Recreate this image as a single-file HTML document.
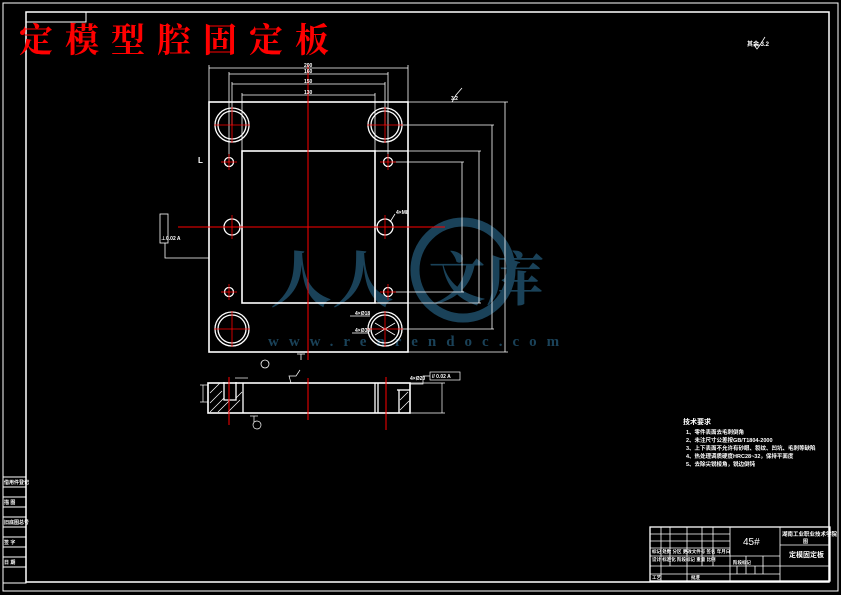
<!DOCTYPE html>
<html><head><meta charset="utf-8"><style>
html,body{margin:0;padding:0;background:#000;}
svg{display:block}
</style></head><body>
<svg width="841" height="595" viewBox="0 0 841 595" xmlns="http://www.w3.org/2000/svg" font-family="Liberation Sans, Noto Sans CJK SC, sans-serif">
<rect x="0" y="0" width="841" height="595" fill="#000"/>
<g stroke="#fff" fill="none" stroke-width="1">
<rect x="3" y="3" width="835" height="588"/>
<rect x="26" y="12" width="803" height="570" stroke-width="1.5"/>
<polyline points="26,22 86,22 86,12"/>
<rect x="3" y="477" width="23" height="106"/>
<line x1="3" y1="487" x2="26" y2="487"/><line x1="3" y1="497" x2="26" y2="497"/>
<line x1="3" y1="507" x2="26" y2="507"/><line x1="3" y1="517" x2="26" y2="517"/>
<line x1="3" y1="527" x2="26" y2="527"/><line x1="3" y1="537" x2="26" y2="537"/>
<line x1="3" y1="547" x2="26" y2="547"/><line x1="3" y1="557" x2="26" y2="557"/>
<line x1="3" y1="567" x2="26" y2="567"/>
</g>
<text x="19" y="52" font-family="Liberation Serif, Noto Serif CJK SC, serif" font-weight="bold" font-size="34" letter-spacing="12" fill="#ff0000">定模型腔固定板</text>
<g fill="#1d4a63" opacity="0.9">
<circle cx="463" cy="270" r="48" fill="none" stroke="#1d4a63" stroke-width="9"/>
<text x="270" y="302" font-size="62" font-weight="bold" font-family="Noto Serif CJK SC, serif" fill="#1d4a63">人人</text>
<text x="428" y="300" font-size="58" font-weight="bold" font-family="Noto Serif CJK SC, serif" fill="#1d4a63">文库</text>
<text x="268" y="346" font-size="15" font-weight="bold" letter-spacing="10" font-family="Liberation Serif, serif" fill="#1d4a63">www.renrendoc.com</text>
</g>
<g stroke="#fff" fill="none" stroke-width="1.3">
<rect x="209" y="102" width="199" height="250" stroke-width="1.6"/>
<rect x="242" y="151" width="133" height="152" stroke-width="1.6"/>
<line x1="375" y1="151" x2="408" y2="151"/><line x1="375" y1="303" x2="408" y2="303"/>
<circle cx="232" cy="125" r="17"/><circle cx="232" cy="125" r="14"/>
<circle cx="385" cy="125" r="17"/><circle cx="385" cy="125" r="14"/>
<circle cx="232" cy="329" r="17"/><circle cx="232" cy="329" r="14"/>
<circle cx="385" cy="329" r="17"/><circle cx="385" cy="329" r="14"/>
<circle cx="229" cy="162" r="4.5"/><circle cx="388" cy="162" r="4.5"/>
<circle cx="229" cy="292" r="4.5"/><circle cx="388" cy="292" r="4.5"/>
<circle cx="232" cy="227" r="8"/><circle cx="385" cy="227" r="8"/>
<line x1="375" y1="323" x2="395" y2="335" stroke-width="0.8"/><line x1="375" y1="335" x2="395" y2="323" stroke-width="0.8"/>
<g stroke-width="0.8">
<line x1="209" y1="68" x2="408" y2="68"/><line x1="209" y1="65" x2="209" y2="102"/><line x1="408" y1="65" x2="408" y2="102"/>
<line x1="229" y1="74" x2="388" y2="74"/><line x1="229" y1="72" x2="229" y2="162"/><line x1="388" y1="72" x2="388" y2="162"/>
<line x1="232" y1="84" x2="385" y2="84"/><line x1="232" y1="82" x2="232" y2="125"/><line x1="385" y1="82" x2="385" y2="125"/>
<line x1="242" y1="95" x2="375" y2="95"/><line x1="242" y1="93" x2="242" y2="151"/><line x1="375" y1="93" x2="375" y2="151"/>
<line x1="408" y1="102" x2="508" y2="102"/><line x1="408" y1="352" x2="508" y2="352"/><line x1="505" y1="102" x2="505" y2="352"/>
<line x1="400" y1="125" x2="494" y2="125"/><line x1="400" y1="329" x2="494" y2="329"/><line x1="492" y1="125" x2="492" y2="329"/>
<line x1="408" y1="151" x2="481" y2="151"/><line x1="408" y1="303" x2="481" y2="303"/><line x1="479" y1="151" x2="479" y2="303"/>
<line x1="392" y1="162" x2="464" y2="162"/><line x1="392" y1="292" x2="464" y2="292"/><line x1="462" y1="162" x2="462" y2="292"/>
<rect x="160" y="214" width="8" height="29"/>
<polyline points="165,243 165,258 209,258"/>
<line x1="301" y1="354" x2="301" y2="360"/><line x1="297" y1="354" x2="305" y2="354"/>
<circle cx="265" cy="364" r="4"/>
<line x1="350" y1="316" x2="370" y2="316"/><line x1="352" y1="333" x2="368" y2="333"/>
<line x1="395" y1="214" x2="390" y2="222"/>
<polyline points="452,102 456,95 462,88"/>
</g>
<rect x="208" y="383" width="202" height="30" stroke-width="1.6"/>
<line x1="243" y1="383" x2="243" y2="413"/><line x1="375" y1="383" x2="375" y2="413"/><line x1="378" y1="383" x2="378" y2="413"/>
<line x1="399" y1="390" x2="399" y2="413"/><line x1="397" y1="390" x2="410" y2="390"/>
<polyline points="224,382 224,400 236,400 236,382"/>
<g stroke-width="0.7">
<line x1="210" y1="393" x2="220" y2="383"/><line x1="210" y1="403" x2="222" y2="391"/><line x1="210" y1="412" x2="224" y2="398"/><line x1="218" y1="412" x2="229" y2="401"/><line x1="228" y1="412" x2="240" y2="400"/><line x1="236" y1="398" x2="242" y2="392"/>
<line x1="400" y1="400" x2="408" y2="392"/><line x1="400" y1="410" x2="409" y2="401"/>
<line x1="410" y1="383" x2="445" y2="383"/><line x1="410" y1="413" x2="445" y2="413"/><line x1="442" y1="383" x2="442" y2="413"/>
<line x1="200" y1="385" x2="208" y2="385"/><line x1="200" y1="402" x2="208" y2="402"/><line x1="203" y1="385" x2="203" y2="402"/>
<rect x="430" y="372" width="30" height="8"/><polyline points="430,376 423,376 423,384 410,384"/>
<line x1="254" y1="416" x2="254" y2="422"/><line x1="250" y1="416" x2="258" y2="416"/><circle cx="257" cy="425" r="4"/>
<line x1="235" y1="378" x2="248" y2="378"/>
<polyline points="291,383 289,376 296,376 300,370"/>
</g>
<rect x="650" y="527" width="180" height="54"/>
<g stroke-width="0.8">
<line x1="730" y1="527" x2="730" y2="581"/><line x1="780" y1="527" x2="780" y2="581"/>
<line x1="780" y1="545" x2="830" y2="545"/><line x1="780" y1="566" x2="830" y2="566"/>
<line x1="730" y1="556" x2="780" y2="556"/><line x1="730" y1="566" x2="780" y2="566"/><line x1="730" y1="574" x2="780" y2="574"/>
<line x1="650" y1="534" x2="730" y2="534"/><line x1="650" y1="541" x2="730" y2="541"/><line x1="650" y1="548" x2="730" y2="548"/>
<line x1="650" y1="556" x2="730" y2="556"/><line x1="650" y1="566" x2="730" y2="566"/><line x1="650" y1="574" x2="730" y2="574"/>
<line x1="661" y1="527" x2="661" y2="581"/><line x1="670" y1="527" x2="670" y2="566"/><line x1="687" y1="527" x2="687" y2="581"/>
<line x1="702" y1="527" x2="702" y2="566"/><line x1="713" y1="527" x2="713" y2="566"/>
<line x1="746" y1="556" x2="746" y2="574"/><line x1="763" y1="556" x2="763" y2="574"/><line x1="737" y1="566" x2="737" y2="574"/><line x1="755" y1="566" x2="755" y2="574"/>
</g>
</g>
<g stroke="#ff0000" stroke-width="1">
<line x1="308" y1="65" x2="308" y2="360"/><line x1="178" y1="227" x2="445" y2="227"/>
<line x1="308" y1="378" x2="308" y2="420"/><line x1="229" y1="377" x2="229" y2="425"/><line x1="386" y1="377" x2="386" y2="430"/>
<g stroke-width="0.8">
<line x1="214" y1="125" x2="250" y2="125"/><line x1="232" y1="107" x2="232" y2="143"/>
<line x1="367" y1="125" x2="403" y2="125"/><line x1="385" y1="107" x2="385" y2="143"/>
<line x1="214" y1="329" x2="250" y2="329"/><line x1="232" y1="311" x2="232" y2="347"/>
<line x1="367" y1="329" x2="403" y2="329"/><line x1="385" y1="311" x2="385" y2="347"/>
<line x1="221" y1="162" x2="237" y2="162"/><line x1="229" y1="154" x2="229" y2="170"/>
<line x1="380" y1="162" x2="396" y2="162"/><line x1="388" y1="154" x2="388" y2="170"/>
<line x1="221" y1="292" x2="237" y2="292"/><line x1="229" y1="284" x2="229" y2="300"/>
<line x1="380" y1="292" x2="396" y2="292"/><line x1="388" y1="284" x2="388" y2="300"/>
<line x1="232" y1="215" x2="232" y2="239"/><line x1="385" y1="215" x2="385" y2="239"/>
</g></g>
<g fill="#fff" font-size="5" font-weight="bold">
<text x="304" y="67">200</text><text x="304" y="73">160</text><text x="304" y="83">150</text><text x="304" y="94">130</text>
<text x="451" y="100">3.2</text><text x="747" y="46" font-size="6">其余 3.2</text>
<text x="198" y="163" font-size="8">L</text>
<text x="161" y="240" font-size="5">⊥0.02 A</text>
<text x="396" y="214">4×M8</text><text x="355" y="315">4×Ø18</text><text x="355" y="332">4×Ø30</text>
<text x="410" y="380">4×Ø20</text><text x="432" y="378">// 0.02 A</text>
<text x="683" y="424" font-size="7">技术要求</text>
<text x="686" y="434" font-size="5.5">1、零件表面去毛刺倒角</text>
<text x="686" y="442" font-size="5.5">2、未注尺寸公差按GB/T1804-2000</text>
<text x="686" y="450" font-size="5.5">3、上下表面不允许有砂眼、裂纹、凹坑、毛刺等缺陷</text>
<text x="686" y="458" font-size="5.5">4、热处理调质硬度HRC28~32，保持平面度</text>
<text x="686" y="466" font-size="5.5">5、去除尖锐棱角，锐边倒钝</text>
<text x="743" y="545" font-size="10" font-weight="normal">45#</text>
<text x="782" y="536" font-size="5.5">湖南工业职业技术学院</text>
<text x="803" y="543" font-size="5">图</text>
<text x="789" y="557" font-size="7">定模固定板</text>
<text x="652" y="553" font-size="4.5">标记 处数 分区 更改文件号 签名 年月日</text>
<text x="652" y="561" font-size="4.5">设计 标准化 阶段标记 重量 比例</text>
<text x="652" y="579" font-size="4.5">工艺</text><text x="691" y="579" font-size="4.5">批准</text>
<text x="733" y="564" font-size="4.5">阶段标记</text>
<text x="4" y="484" font-size="5">借用件登记</text><text x="4" y="504" font-size="5">描 图</text><text x="4" y="524" font-size="5">旧底图总号</text><text x="4" y="544" font-size="5">签 字</text><text x="4" y="564" font-size="5">日 期</text>
</g>
<g stroke="#fff" fill="none" stroke-width="0.8">
<path d="M754 45 l3 4 l3 -4 z M760 45 l5 -8"/>
</g>
</svg>
</body></html>
